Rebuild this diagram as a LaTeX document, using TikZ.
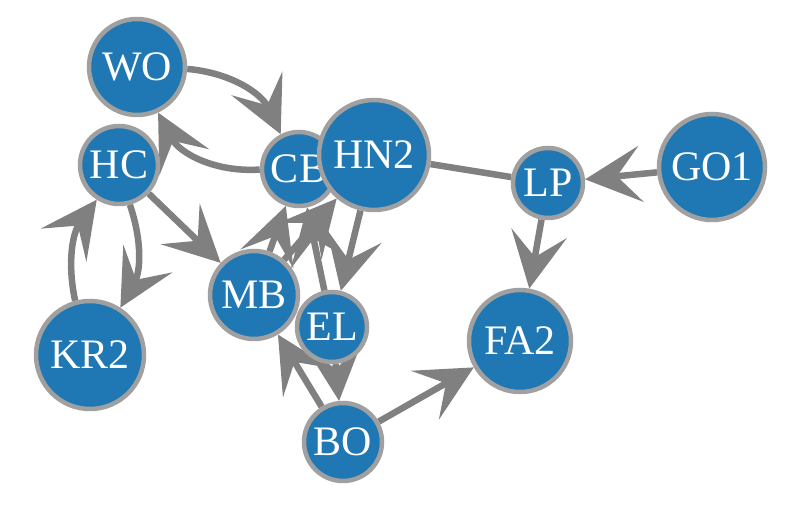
\documentclass[tikz,border=0pt]{standalone}
\usepackage{fontspec}
\setmainfont{Liberation Serif}
\usetikzlibrary{arrows.meta,backgrounds}
\definecolor{nodefill}{RGB}{31,119,180}
\definecolor{nodeedge}{RGB}{160,160,160}
\definecolor{edgecol}{RGB}{128,128,128}
\begin{document}
\begin{tikzpicture}[x=1pt,y=1pt,
  gnode/.style={circle,fill=nodefill,draw=nodeedge,line width=4.5pt,inner sep=0pt,
    text=white,font=\fontsize{42}{42}\selectfont,minimum size=#1},
  link/.style={draw=edgecol,line width=6.5pt},
  arr/.style={link,-{Stealth[length=56pt,width=56pt,inset=24pt]}}
]
\useasboundingbox (0,0) rectangle (800,505);
\node[gnode=96pt] (WO) at (137,438) {WO};
\node[gnode=78pt] (HC) at (119,340) {HC};
\node[gnode=108pt] (KR2) at (90,150) {KR2};
\node[gnode=74pt] (CB) at (299,336) {CB};
\node[gnode=110pt] (HN2) at (374,350) {HN2};
\node[gnode=88pt] (MB) at (254,210) {MB};
\node[gnode=70pt] (EL) at (332,178) {EL};
\node[gnode=78pt] (BO) at (343,63) {BO};
\node[gnode=102pt] (FA2) at (520,164) {FA2};
\node[gnode=70pt] (LP) at (548,322) {LP};
\node[gnode=106pt] (GO1) at (712,338) {GO1};
\begin{scope}[on background layer]
\draw[arr] (WO) to[bend left=30] (CB);
\draw[arr] (CB) to[bend left=33] (WO);
\draw[arr] (HC) to[bend left=24] (KR2);
\draw[arr] (KR2) to[bend left=24] (HC);
\draw[arr] (HC) -- (MB);
\draw[arr] (MB) -- (CB);
\draw[arr] (MB) -- (HN2);
\draw[arr] (EL) -- (CB);
\draw[arr] (HN2) -- (EL);
\draw[arr] (EL) -- (BO);
\draw[arr] (BO) -- (MB);
\draw[arr] (BO) -- (FA2);
\draw[link] (HN2) -- (LP);
\draw[arr] (GO1) -- (LP);
\draw[arr] (LP) -- (FA2);
\end{scope}
\end{tikzpicture}
\end{document}
